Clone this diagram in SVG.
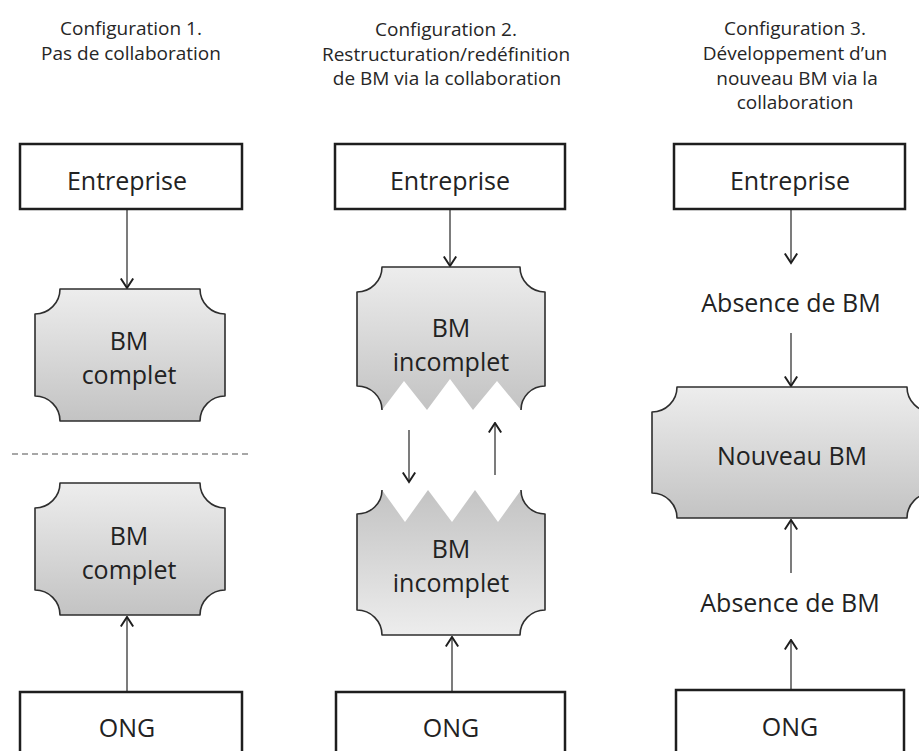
<svg xmlns="http://www.w3.org/2000/svg" width="919" height="751" viewBox="0 0 919 751">
<defs>
<linearGradient id="gDown" x1="0" y1="0" x2="0" y2="1">
<stop offset="0" stop-color="#ededed"/>
<stop offset="1" stop-color="#c3c3c3"/>
</linearGradient>
<linearGradient id="gUp" x1="0" y1="0" x2="0" y2="1">
<stop offset="0" stop-color="#c3c3c3"/>
<stop offset="1" stop-color="#ededed"/>
</linearGradient>
<marker id="arr" viewBox="0 0 12 14" refX="10.5" refY="7" markerWidth="12" markerHeight="14" markerUnits="userSpaceOnUse" orient="auto">
<path d="M1,0.8 L10.5,7 L1,13.2" fill="none" stroke="#1e1e1e" stroke-width="2"/>
</marker>
</defs>
<style>
.title{font-family:"Open Sans","DejaVu Sans",sans-serif;font-size:19px;fill:#262626;text-anchor:middle}
.lbl{font-family:"Open Sans","DejaVu Sans",sans-serif;font-size:25px;fill:#222;text-anchor:middle}
.box{fill:#fff;stroke:#1e1e1e;stroke-width:2.5}
.bm{stroke:#2e2e2e;stroke-width:1.6;stroke-linejoin:round}
.edge{fill:none;stroke:#2e2e2e;stroke-width:1.6;stroke-linejoin:round}
.conn{stroke:#6e6e6e;stroke-width:1.8;fill:none;marker-end:url(#arr)}
</style>
<rect width="919" height="751" fill="#fff"/>

<g id="titles">
<text class="title" x="131" y="35">Configuration 1.</text>
<text class="title" x="131" y="60">Pas de collaboration</text>
<text class="title" x="446" y="36">Configuration 2.</text>
<text class="title" x="446" y="61">Restructuration/redéfinition</text>
<text class="title" x="447" y="85">de BM via la collaboration</text>
<text class="title" x="795" y="35">Configuration 3.</text>
<text class="title" x="795" y="60">Développement d’un</text>
<text class="title" x="797" y="85">nouveau BM via la</text>
<text class="title" x="795" y="109">collaboration</text>
</g>

<line id="separator" x1="12" y1="454" x2="248" y2="454" stroke="#8a8a8a" stroke-width="1.5" stroke-dasharray="6,4"/>

<g id="connectors">
<line class="conn" x1="127" y1="209" x2="127" y2="288"/>
<line class="conn" x1="127" y1="692" x2="127" y2="617"/>
<line class="conn" x1="450" y1="209" x2="450" y2="266"/>
<line class="conn" x1="409" y1="430" x2="409" y2="482"/>
<line class="conn" x1="495" y1="475" x2="495" y2="423"/>
<line class="conn" x1="452" y1="692" x2="452" y2="637"/>
<line class="conn" x1="791" y1="209" x2="791" y2="263"/>
<line class="conn" x1="791" y1="333" x2="791" y2="386"/>
<line class="conn" x1="791" y1="573" x2="791" y2="520"/>
<line class="conn" x1="791" y1="690" x2="791" y2="640"/>
</g>

<g id="entreprise1">
<rect class="box" x="20" y="144" width="222" height="65"/>
<text class="lbl" x="127" y="190">Entreprise</text>
</g>
<g id="bm1a">
<path class="bm" fill="url(#gDown)" d="M60,289 H200 A25,25 0 0 0 225,314 V396 A25,25 0 0 0 200,421 H60 A25,25 0 0 0 35,396 V314 A25,25 0 0 0 60,289 Z"/>
<text class="lbl" x="129" y="350">BM</text>
<text class="lbl" x="129" y="384">complet</text>
</g>
<g id="bm1b">
<path class="bm" fill="url(#gDown)" d="M60,483 H200 A25,25 0 0 0 225,508 V590 A25,25 0 0 0 200,615 H60 A25,25 0 0 0 35,590 V508 A25,25 0 0 0 60,483 Z"/>
<text class="lbl" x="129" y="545">BM</text>
<text class="lbl" x="129" y="579">complet</text>
</g>
<g id="ong1">
<rect class="box" x="20" y="692" width="222" height="65"/>
<text class="lbl" x="127" y="737">ONG</text>
</g>

<g id="entreprise2">
<rect class="box" x="335" y="144" width="230" height="65"/>
<text class="lbl" x="450" y="190">Entreprise</text>
</g>
<g id="bm2a">
<path fill="url(#gDown)" d="M382,267 H520 A25,25 0 0 0 545,292 V386 A24,24 0 0 0 521,410 L497,381 L473,410 L450,379 L427,410 L404,381 L382,410 A25,24 0 0 0 357,386 V292 A25,25 0 0 0 382,267 Z"/>
<path class="edge" d="M382,410 A25,24 0 0 0 357,386 V292 A25,25 0 0 0 382,267 H520 A25,25 0 0 0 545,292 V386 A24,24 0 0 0 521,410"/>
<text class="lbl" x="451" y="337">BM</text>
<text class="lbl" x="451" y="371">incomplet</text>
</g>
<g id="bm2b">
<path fill="url(#gUp)" d="M382,490 L405,522 L428,490 L452,522 L475,490 L498,522 L521,490 A24,24 0 0 0 545,514 V610 A25,25 0 0 0 520,635 H382 A25,25 0 0 0 357,610 V514 A25,24 0 0 0 382,490 Z"/>
<path class="edge" d="M521,490 A24,24 0 0 0 545,514 V610 A25,25 0 0 0 520,635 H382 A25,25 0 0 0 357,610 V514 A25,24 0 0 0 382,490"/>
<text class="lbl" x="451" y="558">BM</text>
<text class="lbl" x="451" y="592">incomplet</text>
</g>
<g id="ong2">
<rect class="box" x="336" y="692" width="229" height="65"/>
<text class="lbl" x="451" y="737">ONG</text>
</g>

<g id="entreprise3">
<rect class="box" x="674" y="144" width="231" height="65"/>
<text class="lbl" x="790" y="190">Entreprise</text>
</g>
<g id="absence1">
<text class="lbl" x="791" y="312">Absence de BM</text>
</g>
<g id="nouveau">
<path class="bm" fill="url(#gDown)" d="M677,387 H907 A25,25 0 0 0 932,412 V493 A25,25 0 0 0 907,518 H677 A25,25 0 0 0 652,493 V412 A25,25 0 0 0 677,387 Z"/>
<text class="lbl" x="792" y="465">Nouveau BM</text>
</g>
<g id="absence2">
<text class="lbl" x="790" y="612">Absence de BM</text>
</g>
<g id="ong3">
<rect class="box" x="676" y="690" width="228" height="67"/>
<text class="lbl" x="790" y="736">ONG</text>
</g>
</svg>
